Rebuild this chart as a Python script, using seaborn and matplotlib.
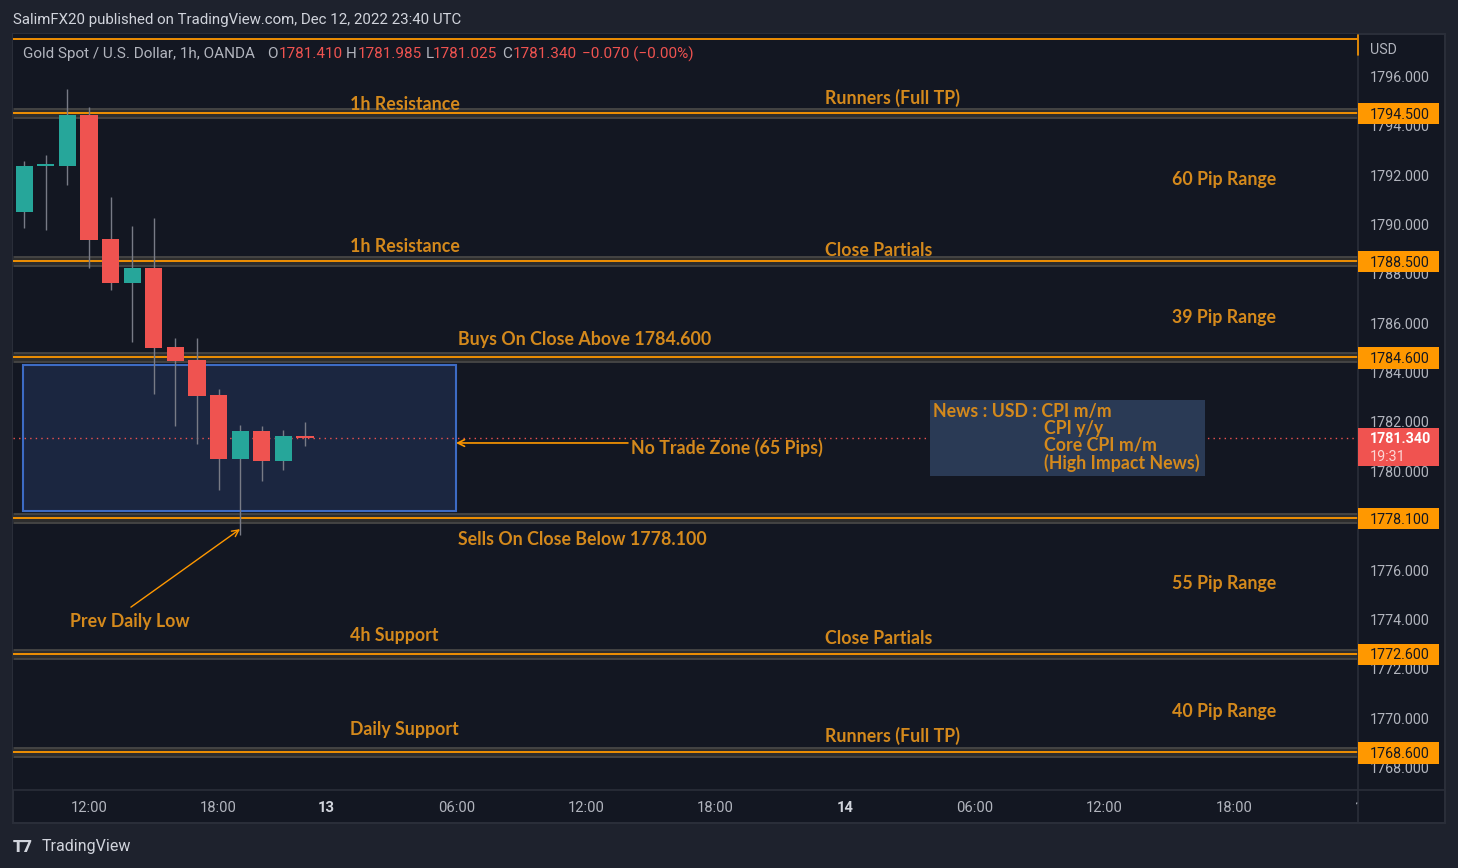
import numpy as np
import pandas as pd
import seaborn as sns
import matplotlib
matplotlib.use("Agg")
import matplotlib.pyplot as plt
from matplotlib.patches import Rectangle
from matplotlib.lines import Line2D
import matplotlib.transforms as mtransforms

# ---------------- data ----------------
bar_index = [-3, -2, -1, 0, 1, 2, 3, 4, 5, 6, 7, 8, 9, 10]
opens  = [1790.49, 1792.35, 1792.35, 1794.42, 1789.40, 1787.63, 1788.22, 1785.02, 1784.49, 1783.07, 1780.48, 1781.62, 1780.40, 1781.410]
highs  = [1792.56, 1792.80, 1795.47, 1794.74, 1791.10, 1789.92, 1790.25, 1785.38, 1785.38, 1783.32, 1781.86, 1781.82, 1781.66, 1781.985]
lows   = [1789.85, 1789.77, 1791.60, 1788.23, 1787.34, 1785.22, 1783.13, 1781.82, 1781.09, 1779.23, 1777.40, 1779.59, 1780.04, 1781.025]
closes = [1792.35, 1792.42, 1794.42, 1789.37, 1787.63, 1788.22, 1784.98, 1784.45, 1783.03, 1780.48, 1781.62, 1780.40, 1781.41, 1781.340]

levels = [1794.5, 1788.5, 1784.6, 1778.1, 1772.6, 1768.6]
level_labels = ["1794.500", "1788.500", "1784.600", "1778.100", "1772.600", "1768.600"]
last_price = 1781.34
top_line_price = 1797.50

price_ticks = [1796, 1794, 1792, 1790, 1788, 1786, 1784, 1782, 1780, 1778, 1776, 1774, 1772, 1770, 1768]
time_tick_pos = [0, 6, 11, 17, 23, 29, 35, 41, 47, 53, 59]
time_tick_lbl = ["12:00", "18:00", "13", "06:00", "12:00", "18:00", "14", "06:00", "12:00", "18:00", "15"]
time_tick_bold = [False, False, True, False, False, False, True, False, False, False, True]

# annotation texts: (bar x, price y, text)
notes_x = [12.1, 34.07, 50.14, 12.1, 34.07, 50.14, 17.08, 25.1, 17.08, 50.14, -0.88, 12.1, 34.07, 50.14, 12.1, 34.07]
notes_y = [1794.85, 1795.09, 1791.81, 1789.09, 1788.93, 1786.22, 1785.32, 1780.91, 1777.22, 1775.44, 1773.90, 1773.33, 1773.21, 1770.25, 1769.52, 1769.24]
notes_t = ["1h Resistance", "Runners (Full TP)", "60 Pip Range", "1h Resistance", "Close Partials",
           "39 Pip Range", "Buys On Close Above 1784.600", "No Trade Zone (65 Pips)",
           "Sells On Close Below 1778.100", "55 Pip Range", "Prev Daily Low", "4h Support",
           "Close Partials", "40 Pip Range", "Daily Support", "Runners (Full TP)"]

zone_x = [-3.06, 16.99]
zone_y = [1778.37, 1784.29]
news_x = [38.94, 51.67]
news_y = [1779.79, 1782.87]
news_lines = ["News : USD : CPI m/m", "CPI y/y", "Core CPI m/m", "(High Impact News)"]

df = pd.DataFrame(dict(i=bar_index, o=opens, h=highs, l=lows, c=closes))

# ---------------- style ----------------
sns.set_theme(style="dark")
plt.rcParams["font.family"] = ["Roboto", "DejaVu Sans"]

W, H = 1458, 868
BG_OUT = "#1e222d"
BG_IN = "#131722"
BORDER = "#2a2e39"
TXT = "#b2b5be"
ORANGE_LINE = "#ff9800"
ORANGE_TXT = "#d4891c"
GREEN = "#26a69a"
RED = "#ef5350"
WICK = "#787b86"

def fx(x):
    return x / W

def fy(y):
    return 1 - y / H

fig = plt.figure(figsize=(W / 100, H / 100), dpi=100, facecolor=BG_OUT)

# panel background
fig.add_artist(Rectangle((fx(13), fy(823)), (1445 - 13) / W, (823 - 34) / H,
                         transform=fig.transFigure, facecolor=BG_IN, edgecolor=BORDER, lw=1.5, zorder=0))

ax = fig.add_axes([fx(13), fy(790), (1358 - 13) / W, (790 - 34) / H])
ax.set_facecolor(BG_IN)
ax.set_xlim(-3.52, 58.75)
ax.set_ylim(1767.07, 1797.70)
ax.set_xticks([])
ax.set_yticks([])
for s in ax.spines.values():
    s.set_visible(False)
ax.grid(False)

# separators
fig.add_artist(Line2D([fx(1358), fx(1358)], [fy(34), fy(823)], transform=fig.transFigure, color=BORDER, lw=1.2))
fig.add_artist(Line2D([fx(13), fx(1445)], [fy(790), fy(790)], transform=fig.transFigure, color=BORDER, lw=1.2))

# zone box
ax.add_patch(Rectangle((zone_x[0], zone_y[0]), zone_x[1] - zone_x[0], zone_y[1] - zone_y[0],
                       facecolor="#1b2640", edgecolor="#3d6bc4", lw=1.5, zorder=1))

# level bands
for lv in levels:
    ax.axhline(lv, color="#434343", lw=7.9, zorder=2, solid_capstyle="butt")
    ax.axhline(lv, color="#2d2d2d", lw=5.0, zorder=2.1, solid_capstyle="butt")
    ax.axhline(lv, color=ORANGE_LINE, lw=1.3, zorder=2.2)
ax.axhline(top_line_price, color=ORANGE_LINE, lw=1.3, zorder=2.2)

# last price dotted line
ax.axhline(last_price, color=RED, lw=1.0, ls=(0, (1, 3)), zorder=2.5)

# news box
ax.add_patch(Rectangle((news_x[0], news_y[0]), news_x[1] - news_x[0], news_y[1] - news_y[0],
                       facecolor="#2a3a55", edgecolor="none", zorder=2.6))

# candles
body_w = 0.79
for _, r in df.iterrows():
    col = GREEN if r.c >= r.o else RED
    ax.vlines(r.i, r.l, r.h, color=WICK, lw=1.0, zorder=3)
    bot = min(r.o, r.c)
    hgt = max(abs(r.c - r.o), 0.08)
    ax.bar(r.i, hgt, bottom=bot, width=body_w, color=col, edgecolor="none", zorder=4)

# labels
label_font = dict(family=["Lato", "DejaVu Sans"], fontweight="bold", fontsize=12.8, color=ORANGE_TXT)
for x, y, t in zip(notes_x, notes_y, notes_t):
    ax.text(x, y, t, ha="left", va="center", zorder=6, **label_font)

# news text
news_font = dict(family=["Lato", "DejaVu Sans"], fontweight="bold", fontsize=12.8, color=ORANGE_TXT)
ax.text(news_x[0] + 0.14, 1782.40, news_lines[0], ha="left", va="center", zorder=6, **news_font)
for k, ln in enumerate(news_lines[1:]):
    ax.text(44.2, 1782.40 - (k + 1) * 0.69, ln, ha="left", va="center", zorder=6, **news_font)

# arrows
ax.annotate("", xy=(16.99, 1781.13), xytext=(24.95, 1781.13),
            arrowprops=dict(arrowstyle="->", color=ORANGE_LINE, lw=1.2, shrinkA=0, shrinkB=0), zorder=6)
ax.annotate("", xy=(6.99, 1777.64), xytext=(1.94, 1774.48),
            arrowprops=dict(arrowstyle="->", color=ORANGE_LINE, lw=1.0, shrinkA=0, shrinkB=0), zorder=6)

# price axis
trans_py = mtransforms.blended_transform_factory(fig.transFigure, ax.transData)
txt_off = 0.08
for p in price_ticks:
    fig.text(fx(1370), p - txt_off, f"{p:.3f}", transform=trans_py, ha="left", va="center",
             fontsize=10.3, color=TXT, zorder=3)
fig.text(fx(1370), fy(50), "USD", ha="left", va="center", fontsize=10.3, color=TXT)

for lv, lb in zip(levels, level_labels):
    fig.add_artist(Rectangle((fx(1358), lv - 0.46), (1439 - 1358) / W, 0.86, transform=trans_py,
                             facecolor=ORANGE_LINE, edgecolor="none", zorder=5))
    fig.text(fx(1370), lv - txt_off, lb, transform=trans_py, ha="left", va="center", fontsize=10.3,
             color="#131722", zorder=6)

# red last price tag
fig.add_artist(Rectangle((fx(1358), fy(466)), (1439 - 1358) / W, (466 - 428) / H,
                         transform=fig.transFigure, facecolor="#f05350", edgecolor="none", zorder=5))
fig.text(fx(1370), fy(439), "1781.340", ha="left", va="center", fontsize=10.3, color="white",
         fontweight="bold", zorder=6)
fig.text(fx(1370), fy(457), "19:31", ha="left", va="center", fontsize=10.3, color="#fcd6d5", zorder=6)

# top orange line tail into price axis
fig.add_artist(Line2D([fx(1358), fx(1358)], [fy(35), fy(55)], transform=fig.transFigure,
                      color=ORANGE_LINE, lw=1.2))

# time axis
tax = fig.add_axes([fx(13), fy(823), (1358 - 13) / W, (823 - 790) / H], sharex=ax)
tax.set_facecolor("none")
tax.set_ylim(0, 1)
tax.set_yticks([])
tax.tick_params(axis="x", bottom=False, labelbottom=False)
for s in tax.spines.values():
    s.set_visible(False)
for p, lb, b in zip(time_tick_pos, time_tick_lbl, time_tick_bold):
    tax.text(p, 0.45, lb, ha="center", va="center", fontsize=10.6, color=TXT if not b else "#d1d4dc",
             fontweight="bold" if b else "normal", clip_on=True)

# header and legend
fig.text(fx(13), fy(20), "SalimFX20 published on TradingView.com, Dec 12, 2022 23:40 UTC",
         ha="left", va="center", fontsize=10.8, color="#d1d4dc")
legend_parts = [(23, "Gold Spot / U.S. Dollar, 1h, OANDA", TXT), (267, "O", TXT), (279, "1781.410", RED),
                (346, "H", TXT), (358, "1781.985", RED), (426, "L", TXT), (433, "1781.025", RED),
                (502, "C", TXT), (513, "1781.340", RED), (582, "\u22120.070 (\u22120.00%)", RED)]
for x, t, c in legend_parts:
    fig.text(fx(x), fy(54), t, ha="left", va="center", fontsize=11.0, color=c)

# TradingView footer
fig.text(fx(13), fy(847), "T7", ha="left", va="center", fontsize=12, fontweight="heavy", color="#d1d4dc")
fig.text(fx(42), fy(847), "TradingView", ha="left", va="center", fontsize=11.5, color="#d1d4dc")

fig.savefig("out.png", dpi=100, facecolor=BG_OUT)
